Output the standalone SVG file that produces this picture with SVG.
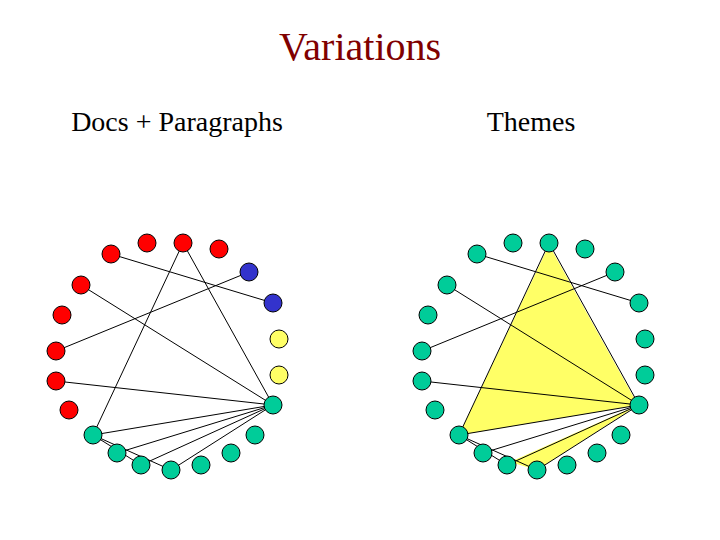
<svg xmlns="http://www.w3.org/2000/svg" width="720" height="540" viewBox="0 0 720 540">
<style>
text{font-family:"Liberation Serif",serif}
circle{stroke:#000;stroke-width:1}
.r{fill:#f00}.b{fill:#3333cc}.y{fill:#ffff66}.g{fill:#00cc99}
#connectors line{stroke:#000;stroke-width:1}
</style>
<rect width="720" height="540" fill="#fff"/>
<text x="360" y="60" font-size="40" fill="#800000" text-anchor="middle">Variations</text>
<text x="177" y="131" font-size="28" text-anchor="middle">Docs + Paragraphs</text>
<text x="531" y="131" font-size="28" text-anchor="middle">Themes</text>
<g id="fills">
<polygon points="549,245 638,405 459,435" fill="#ffff66"/>
<polygon points="638,405 537,470 510,462" fill="#ffff66"/>
</g>
<g id="connectors">
<line x1="111" y1="254" x2="273" y2="303"/>
<line x1="249" y1="272" x2="56" y2="351"/>
<line x1="81" y1="285" x2="273" y2="405"/>
<line x1="56" y1="381" x2="273" y2="405"/>
<line x1="183" y1="243" x2="93" y2="435"/>
<line x1="183" y1="243" x2="273" y2="405"/>
<line x1="93" y1="435" x2="273" y2="405"/>
<line x1="117" y1="453" x2="273" y2="405"/>
<line x1="141" y1="465" x2="273" y2="405"/>
<line x1="171" y1="470" x2="273" y2="405"/>
<line x1="93" y1="435" x2="141" y2="465"/>
<line x1="93" y1="435" x2="171" y2="470"/>
<line x1="477" y1="254" x2="639" y2="303"/>
<line x1="615" y1="272" x2="422" y2="351"/>
<line x1="447" y1="285" x2="639" y2="405"/>
<line x1="422" y1="381" x2="639" y2="405"/>
<line x1="549" y1="243" x2="459" y2="435"/>
<line x1="549" y1="243" x2="639" y2="405"/>
<line x1="459" y1="435" x2="639" y2="405"/>
<line x1="483" y1="453" x2="639" y2="405"/>
<line x1="507" y1="465" x2="639" y2="405"/>
<line x1="537" y1="470" x2="639" y2="405"/>
<line x1="459" y1="435" x2="507" y2="465"/>
<line x1="459" y1="435" x2="537" y2="470"/>
</g>
<g id="left-nodes">
<circle id="l1" class="r" cx="111" cy="254" r="9"/>
<circle id="l2" class="r" cx="147" cy="243" r="9"/>
<circle id="l3" class="r" cx="183" cy="243" r="9"/>
<circle id="l4" class="r" cx="219" cy="249" r="9"/>
<circle id="l5" class="b" cx="249" cy="272" r="9"/>
<circle id="l6" class="b" cx="273" cy="303" r="9"/>
<circle id="l7" class="y" cx="279" cy="339" r="9"/>
<circle id="l8" class="y" cx="279" cy="375" r="9"/>
<circle id="l9" class="g" cx="273" cy="405" r="9"/>
<circle id="l10" class="g" cx="255" cy="435" r="9"/>
<circle id="l11" class="g" cx="231" cy="453" r="9"/>
<circle id="l12" class="g" cx="201" cy="465" r="9"/>
<circle id="l13" class="g" cx="171" cy="470" r="9"/>
<circle id="l14" class="g" cx="141" cy="465" r="9"/>
<circle id="l15" class="g" cx="117" cy="453" r="9"/>
<circle id="l16" class="g" cx="93" cy="435" r="9"/>
<circle id="l17" class="r" cx="69" cy="410" r="9"/>
<circle id="l18" class="r" cx="56" cy="381" r="9"/>
<circle id="l19" class="r" cx="56" cy="351" r="9"/>
<circle id="l20" class="r" cx="62" cy="315" r="9"/>
<circle id="l21" class="r" cx="81" cy="285" r="9"/>
</g>
<g id="right-nodes" class="g">
<circle id="r1" class="g" cx="477" cy="254" r="9"/>
<circle id="r2" class="g" cx="513" cy="243" r="9"/>
<circle id="r3" class="g" cx="549" cy="243" r="9"/>
<circle id="r4" class="g" cx="585" cy="249" r="9"/>
<circle id="r5" class="g" cx="615" cy="272" r="9"/>
<circle id="r6" class="g" cx="639" cy="303" r="9"/>
<circle id="r7" class="g" cx="645" cy="339" r="9"/>
<circle id="r8" class="g" cx="645" cy="375" r="9"/>
<circle id="r9" class="g" cx="639" cy="405" r="9"/>
<circle id="r10" class="g" cx="621" cy="435" r="9"/>
<circle id="r11" class="g" cx="597" cy="453" r="9"/>
<circle id="r12" class="g" cx="567" cy="465" r="9"/>
<circle id="r13" class="g" cx="537" cy="470" r="9"/>
<circle id="r14" class="g" cx="507" cy="465" r="9"/>
<circle id="r15" class="g" cx="483" cy="453" r="9"/>
<circle id="r16" class="g" cx="459" cy="435" r="9"/>
<circle id="r17" class="g" cx="435" cy="410" r="9"/>
<circle id="r18" class="g" cx="422" cy="381" r="9"/>
<circle id="r19" class="g" cx="422" cy="351" r="9"/>
<circle id="r20" class="g" cx="428" cy="315" r="9"/>
<circle id="r21" class="g" cx="447" cy="285" r="9"/>
</g>
</svg>
